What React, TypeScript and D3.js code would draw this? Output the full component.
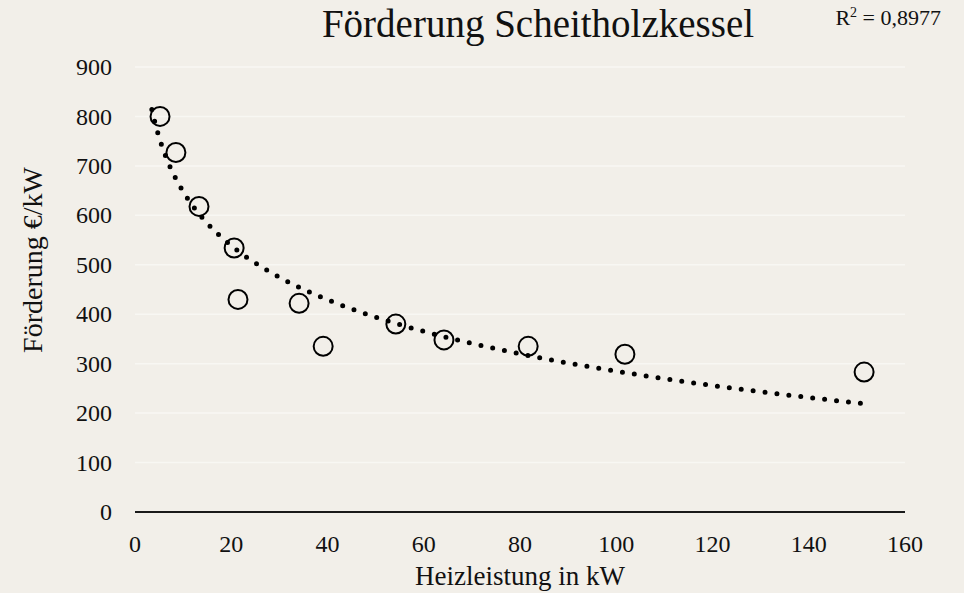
import * as d3 from "d3";

// Heizleistung (kW) und Förderung (€/kW)
const heizleistung = [5.2, 8.5, 13.3, 20.6, 21.4, 34.1, 39.1, 54.2, 64.2, 81.7, 101.8, 151.5];
const foerderung = [800, 727, 618, 534, 430, 422, 335, 380, 348, 335, 319, 283];
const xTicks = [0, 20, 40, 60, 80, 100, 120, 140, 160];
const yTicks = [0, 100, 200, 300, 400, 500, 600, 700, 800, 900];
const trendRange = [3.5, 151.5];

const W = 964;
const H = 593;
const margin = { top: 67, right: 59, bottom: 81, left: 135 };
const FONT = "'Liberation Serif', 'Times New Roman', serif";

export default function App() {
    const innerW = W - margin.left - margin.right;
    const innerH = H - margin.top - margin.bottom;

    const x = d3.scaleLinear().domain([0, 160]).range([margin.left, margin.left + innerW]);
    const y = d3.scaleLinear().domain([0, 900]).range([margin.top + innerH, margin.top]);

    // logarithmic trendline (least squares on ln x), like Excel's "Logarithmisch"
    const lx = heizleistung.map(v => Math.log(v));
    const mx = d3.mean(lx)!;
    const my = d3.mean(foerderung)!;
    const slope = d3.sum(lx, (v, i) => (v - mx) * (foerderung[i] - my)) / d3.sum(lx, v => (v - mx) ** 2);
    const intercept = my - slope * mx;
    const trendXs = d3.range(0, 201).map(i => trendRange[0] + (trendRange[1] - trendRange[0]) * i / 200);
    const trendPath = d3.line<number>()
        .x(v => x(v))
        .y(v => y(slope * Math.log(v) + intercept))(trendXs);

    return (
        <svg width={W} height={H} style={{ position: "absolute", left: 0, top: 0, background: "#f2efe9" }}
            fontFamily={FONT}>
            <rect width={W} height={H} fill="#f2efe9" />

            {/* Grid */}
            {yTicks.filter(t => t > 0).map(t => (
                <line key={"g" + t} x1={x(0)} x2={x(160)} y1={y(t)} y2={y(t)} stroke="#f8f7f3" strokeWidth={1.5} />
            ))}

            {/* Axis line */}
            <line x1={x(0)} x2={x(160)} y1={y(0)} y2={y(0)} stroke="#1a1a1a" strokeWidth={2} />

            {/* Y tick labels */}
            {yTicks.map(t => (
                <text key={"y" + t} x={112} y={y(t)} dy="0.34em" textAnchor="end" fontSize={24} fill="#111">{t}</text>
            ))}

            {/* X tick labels */}
            {xTicks.map(t => (
                <text key={"x" + t} x={x(t)} y={552} textAnchor="middle" fontSize={24} fill="#111">{t}</text>
            ))}

            {/* Data points */}
            {heizleistung.map((v, i) => (
                <circle key={"c" + i} cx={x(v)} cy={y(foerderung[i])} r={9.5} fill="none" stroke="#000" strokeWidth={2} />
            ))}

            {/* Trendline */}
            <path d={trendPath!} fill="none" stroke="#000" strokeWidth={5} strokeDasharray="0 12" strokeLinecap="round" />

            {/* Title */}
            <text x={538} y={37} textAnchor="middle" fontSize={39} fill="#111">Förderung Scheitholzkessel</text>

            {/* R² */}
            <text x={941} y={25} textAnchor="end" fontSize={22} fill="#111">
                R<tspan dy={-8} fontSize={14}>2</tspan><tspan dy={8}> = 0,8977</tspan>
            </text>

            {/* Axis titles */}
            <text x={520} y={585} textAnchor="middle" fontSize={27} fill="#111">Heizleistung in kW</text>
            <text transform="translate(42,260) rotate(-90)" textAnchor="middle" fontSize={28} fill="#111">
                Förderung €/kW
            </text>
        </svg>
    );
}
